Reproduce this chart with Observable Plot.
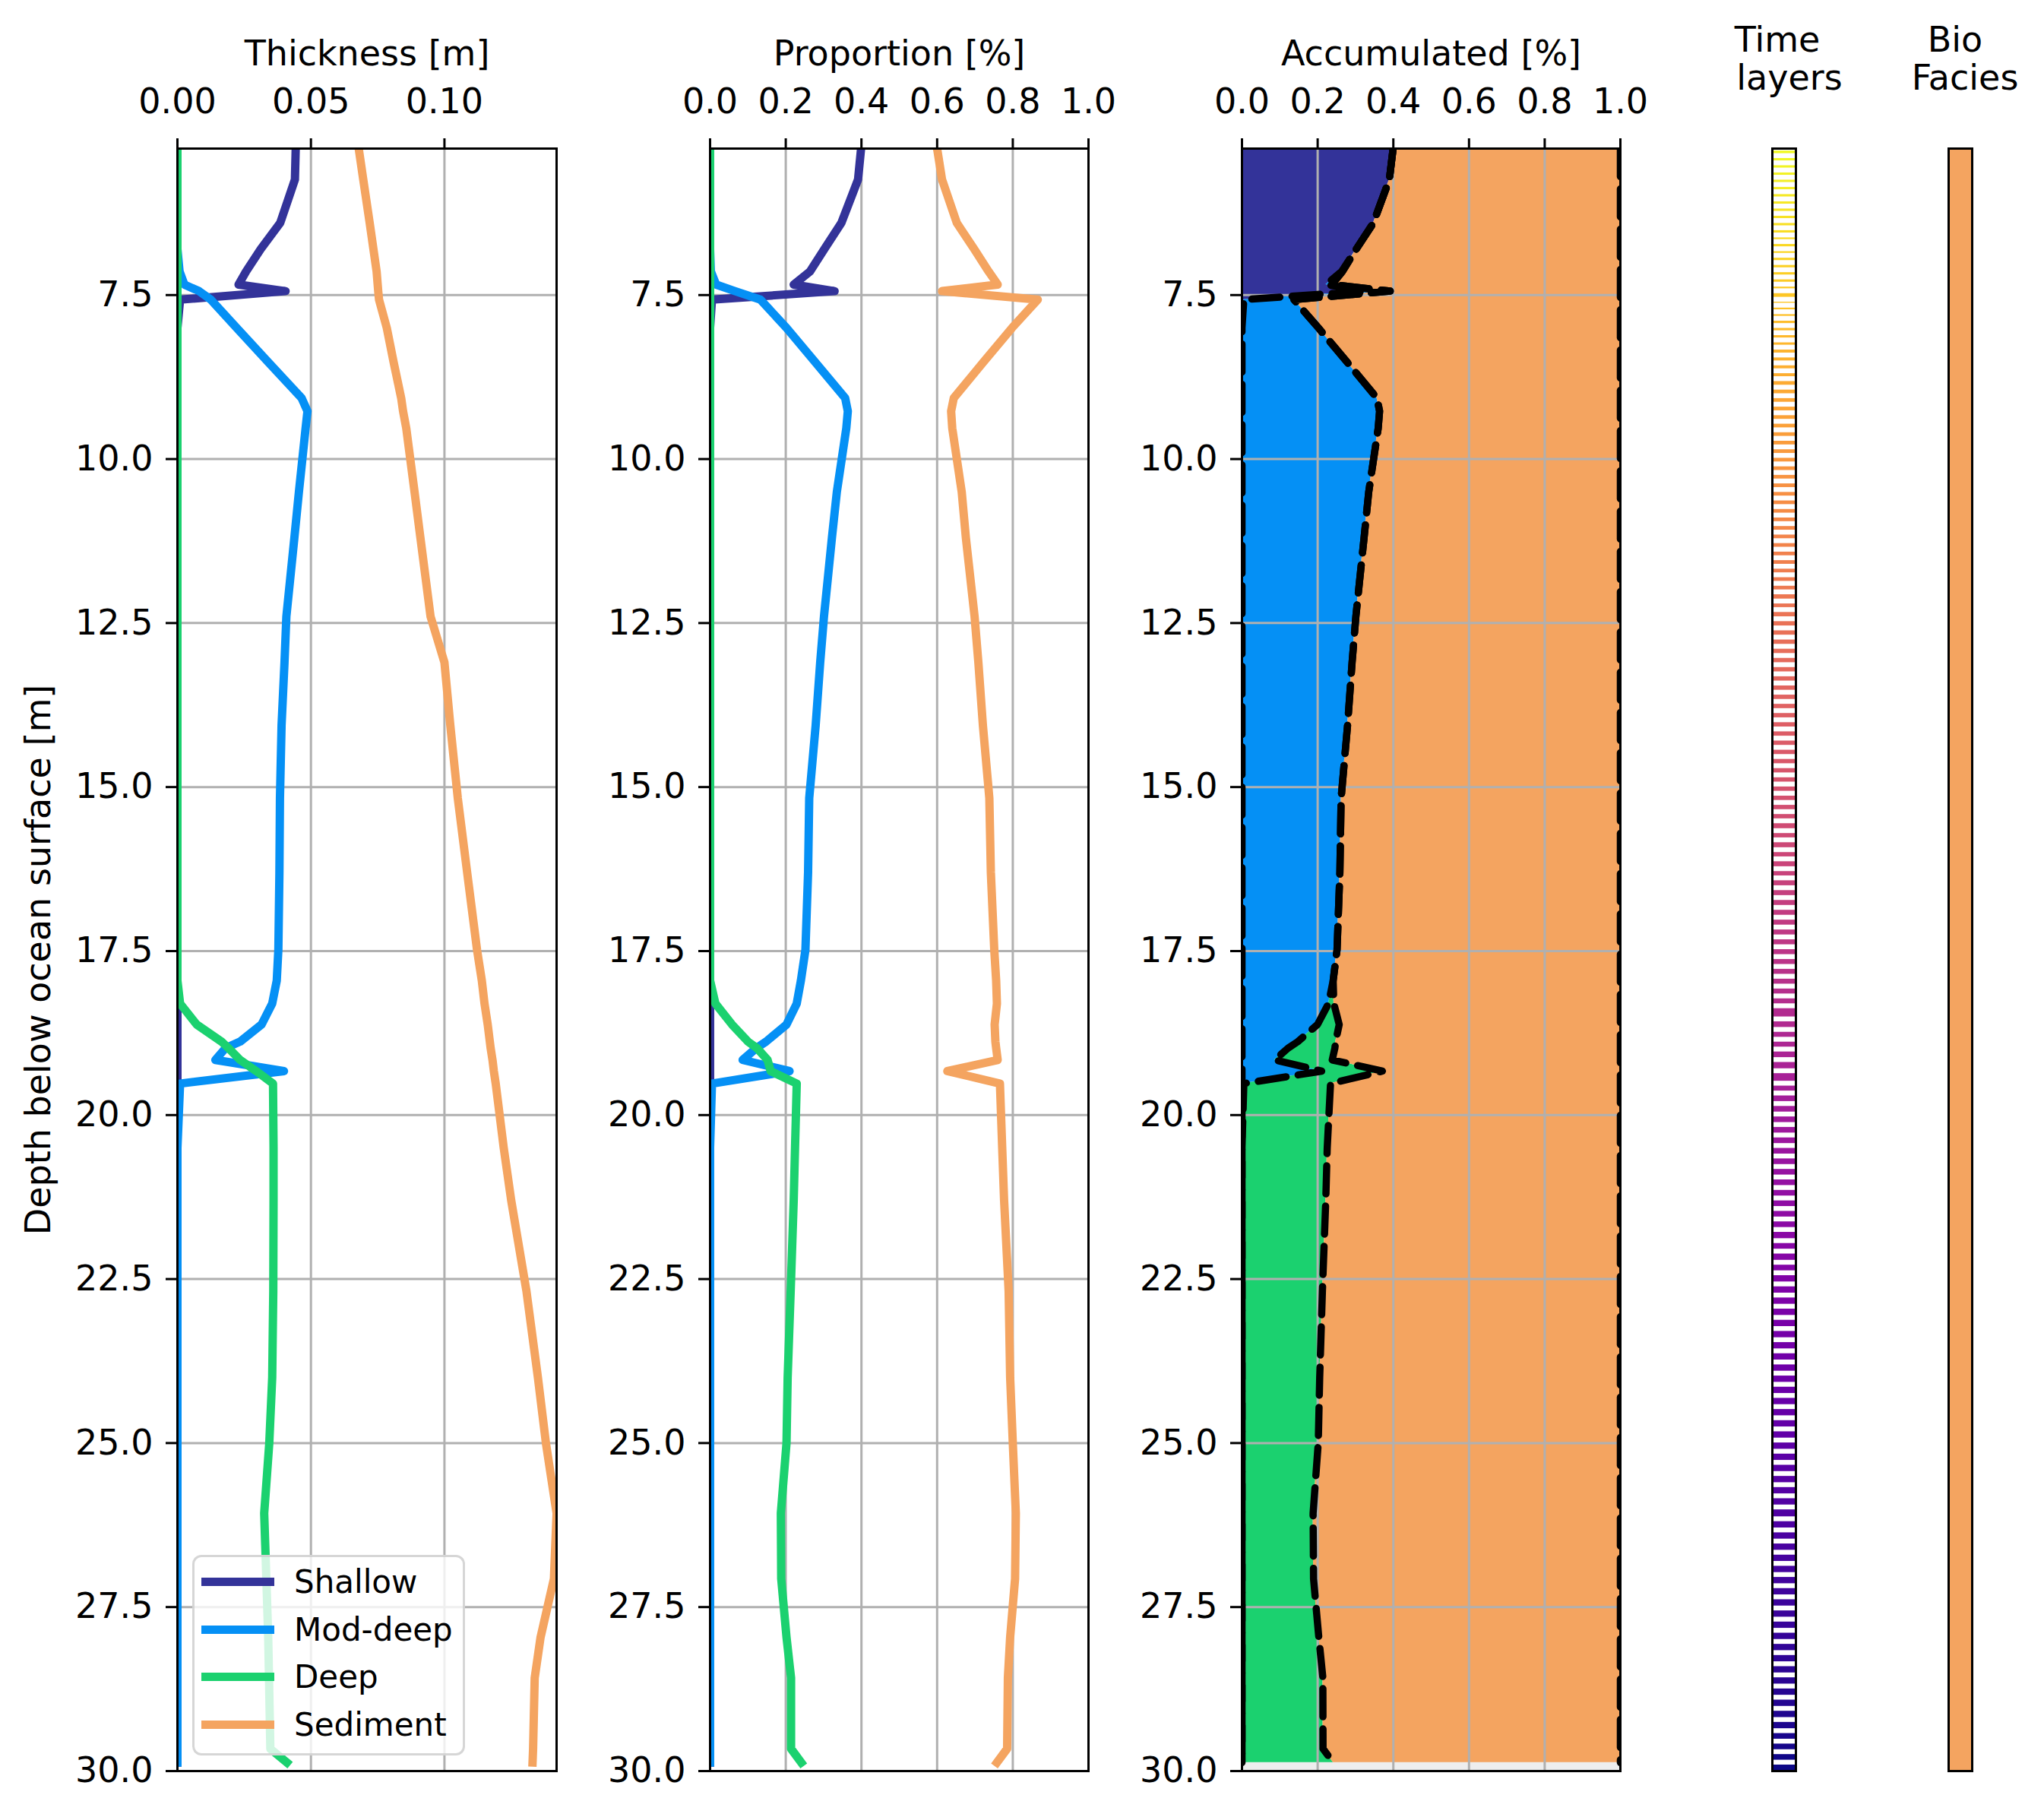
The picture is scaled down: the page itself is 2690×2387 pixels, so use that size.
<!DOCTYPE html>
<html>
<head>
<meta charset="utf-8">
<script src="https://cdn.jsdelivr.net/npm/d3@7"></script>
<script src="https://cdn.jsdelivr.net/npm/@observablehq/plot@0.6"></script>
<style>
html, body { margin: 0; padding: 0; background: #ffffff; }
#chart { position: relative; width: 2690px; height: 2387px; background: #ffffff; font-family: "DejaVu Sans"; overflow: hidden; }
#chart svg { position: absolute; top: 0; }
#legend { position: absolute; left: 253px; top: 2046px; width: 359px; height: 264px; box-sizing: border-box;
  border: 3px solid rgba(204,204,204,0.8); border-radius: 12px; background: rgba(255,255,255,0.8); }
#legend .sw { position: absolute; left: 8.6px; width: 96px; height: 11px; }
#legend .lb { position: absolute; left: 131px; font-size: 42px; line-height: 42px; font-family: "DejaVu Sans"; color: #000; white-space: nowrap; }
</style>
</head>
<body>
<div id="chart"></div>
<script>
// ---------------- data ----------------
const seriesNames = ["Shallow", "Mod-deep", "Deep", "Sediment"];
const seriesColors = ["#333399", "#0590f5", "#1bd16f", "#f4a460"];

// depth below ocean surface [m] of the sampled points
const depth = [5.267, 5.74, 6.40, 6.80, 7.14, 7.34, 7.44, 7.57, 8.00, 8.53,
  9.07, 9.27, 9.53, 10.50, 11.20, 12.40, 13.10, 14.06, 15.17, 16.30,
  17.48, 17.95, 18.30, 18.62, 18.88, 18.98, 19.16, 19.33, 19.52, 20.50,
  21.30, 22.68, 24.00, 25.00, 26.07, 27.07, 27.96, 28.58, 29.66, 29.87];

// thickness [m]
const thickShallow = [0.0443, 0.0440, 0.0385, 0.0312, 0.0257, 0.0229, 0.0405, 0.0010, 0, 0,
  0, 0, 0, 0, 0, 0, 0, 0, 0, 0,
  0, 0, 0, 0, 0, 0, 0, 0, 0, 0,
  0, 0, 0, 0, 0, 0, 0, 0, 0, 0];
const thickModDeep = [0, 0, 0, 0, 0.0008, 0.0026, 0.0081, 0.0125, 0.0222, 0.0342,
  0.0465, 0.0487, 0.0480, 0.0455, 0.0438, 0.0408, 0.0401, 0.0390, 0.0384, 0.0382,
  0.0378, 0.0372, 0.0355, 0.0315, 0.0235, 0.0180, 0.0142, 0.0399, 0.0010, 0,
  0, 0, 0, 0, 0, 0, 0, 0, 0, 0];
const thickDeep = [0, 0, 0, 0, 0, 0, 0, 0, 0, 0,
  0, 0, 0, 0, 0, 0, 0, 0, 0, 0,
  0, 0, 0.0010, 0.0072, 0.0165, 0.0191, 0.0235, 0.0295, 0.0358, 0.0360,
  0.0360, 0.0359, 0.0355, 0.0344, 0.0325, 0.0333, 0.0340, 0.0343, 0.0348, 0.0410];
const thickSediment = [0.0679, 0.0696, 0.0720, 0.0734, 0.0746, 0.0750, 0.0752, 0.0755, 0.0784, 0.0810,
  0.0838, 0.0845, 0.0857, 0.0888, 0.0910, 0.0948, 0.1000, 0.1022, 0.1050, 0.1085,
  0.1122, 0.1140, 0.1150, 0.1162, 0.1170, 0.1173, 0.1180, 0.1185, 0.1192, 0.1222,
  0.1250, 0.1307, 0.1350, 0.1380, 0.1420, 0.1410, 0.1360, 0.1338, 0.1332, 0.1330];

// proportion [0-1]
const propShallow = [0.399, 0.391, 0.347, 0.302, 0.264, 0.221, 0.329, 0.005, 0, 0,
  0, 0, 0, 0, 0, 0, 0, 0, 0, 0,
  0, 0, 0, 0, 0, 0, 0, 0, 0, 0,
  0, 0, 0, 0, 0, 0, 0, 0, 0, 0];
const propModDeep = [0, 0, 0, 0, 0.002, 0.016, 0.066, 0.133, 0.202, 0.279,
  0.357, 0.364, 0.360, 0.335, 0.322, 0.301, 0.291, 0.279, 0.262, 0.259,
  0.252, 0.240, 0.229, 0.202, 0.148, 0.122, 0.086, 0.210, 0.005, 0,
  0, 0, 0, 0, 0, 0, 0, 0, 0, 0];
const propDeep = [0, 0, 0, 0, 0, 0, 0, 0, 0, 0,
  0, 0, 0, 0, 0, 0, 0, 0, 0, 0,
  0, 0, 0.014, 0.058, 0.100, 0.124, 0.152, 0.160, 0.229, 0.2245,
  0.221, 0.213, 0.205, 0.202, 0.187, 0.188, 0.202, 0.214, 0.214, 0.241];
const propSediment = [0.600, 0.613, 0.652, 0.698, 0.736, 0.760, 0.613, 0.866, 0.798, 0.721,
  0.644, 0.637, 0.640, 0.665, 0.676, 0.699, 0.709, 0.721, 0.738, 0.742,
  0.751, 0.756, 0.758, 0.752, 0.754, 0.756, 0.760, 0.627, 0.766, 0.772,
  0.777, 0.789, 0.793, 0.800, 0.808, 0.806, 0.793, 0.787, 0.785, 0.758];

// time layer tops [m]
const layerTop = [5.267, 5.38, 5.49, 5.60, 5.71, 5.82, 5.93, 6.04, 6.15, 6.26,
  6.37, 6.48, 6.59, 6.69, 6.80, 6.90, 7.01, 7.12, 7.23, 7.34,
  7.44, 7.57, 7.66, 7.76, 7.86, 7.97, 8.08, 8.19, 8.30, 8.42,
  8.54, 8.66, 8.78, 8.91, 9.04, 9.17, 9.30, 9.43, 9.56, 9.69,
  9.82, 9.95, 10.08, 10.21, 10.34, 10.47, 10.60, 10.73, 10.86, 10.99,
  11.12, 11.25, 11.38, 11.51, 11.64, 11.77, 11.90, 12.03, 12.17, 12.30,
  12.44, 12.58, 12.72, 12.86, 13.00, 13.14, 13.28, 13.42, 13.56, 13.70,
  13.84, 13.98, 14.12, 14.26, 14.40, 14.54, 14.68, 14.82, 14.96, 15.10,
  15.24, 15.38, 15.52, 15.67, 15.81, 15.96, 16.10, 16.25, 16.39, 16.54,
  16.69, 16.84, 16.99, 17.14, 17.29, 17.44, 17.59, 17.74, 17.89, 18.04,
  18.19, 18.34, 18.54, 18.70, 18.85, 19.00, 19.16, 19.33, 19.52, 19.67,
  19.83, 19.99, 20.15, 20.31, 20.47, 20.63, 20.79, 20.95, 21.11, 21.27,
  21.43, 21.59, 21.75, 21.92, 22.08, 22.25, 22.41, 22.58, 22.75, 22.92,
  23.09, 23.26, 23.43, 23.60, 23.77, 23.94, 24.11, 24.28, 24.45, 24.62,
  24.79, 24.96, 25.13, 25.30, 25.47, 25.64, 25.81, 25.98, 26.16, 26.33,
  26.50, 26.67, 26.84, 27.01, 27.18, 27.35, 27.52, 27.69, 27.86, 28.03,
  28.20, 28.37, 28.54, 28.71, 28.88, 29.05, 29.22, 29.39, 29.55, 29.71,
  29.87];
const layerBase = 30.04;   // bottom of the oldest layer
const bioFacies = [{facies: "Sediment", from: 5.267, to: 30.04}];

const yTicks = [7.5, 10, 12.5, 15, 17.5, 20, 22.5, 25, 27.5, 30];
const depthMax = 30;
const thickTicks = [0, 0.05, 0.10];
const propTicks = [0, 0.2, 0.4, 0.6, 0.8, 1.0];

// ---------------- tidy tables ----------------
const thickness = [thickShallow, thickModDeep, thickDeep, thickSediment];
const proportion = [propShallow, propModDeep, propDeep, propSediment];
const tidy = [];
seriesNames.forEach((s, k) => depth.forEach((d, i) => tidy.push({
  depth: d, series: s, thickness: thickness[k][i], proportion: proportion[k][i]
})));
const nLayers = layerTop.length;
const layers = layerTop.map((t, i) => ({
  top: t, bottom: i + 1 < nLayers ? layerTop[i + 1] : layerBase, age: nLayers - 1 - i
}));

// ---------------- layout ----------------
const H = 2387, MT = 195, MB = 57;
const LW = 11;
const baseStyle = {fontFamily: "DejaVu Sans", fontSize: "46px", color: "black", background: "transparent", overflow: "visible"};
const yScale = {domain: [depth[0], depthMax], reverse: true};
const colorScale = {domain: seriesNames, range: seriesColors};
const gridStyle = {stroke: "#b0b0b0", strokeOpacity: 1, strokeWidth: 3};
const chart = document.getElementById("chart");
function place(svg, left) { svg.style.left = left + "px"; chart.appendChild(svg); }

function yAxis(extra) {
  return Plot.axisY(yTicks, Object.assign({anchor: "left", tickSize: 15, strokeWidth: 3, tickPadding: 17,
    tickFormat: d3.format(".1f"), label: null}, extra));
}
function xAxis(ticks, fmt, label) {
  return Plot.axisX(ticks, {anchor: "top", tickSize: 14, strokeWidth: 3, tickPadding: 33,
    tickFormat: d3.format(fmt), label, labelAnchor: "center", labelOffset: 142, labelArrow: "none"});
}

// Panel 1: thickness
place(Plot.plot({
  width: 760, height: H, marginLeft: 233, marginRight: 28, marginTop: MT, marginBottom: MB,
  style: baseStyle,
  x: {domain: [0, d3.max(tidy, d => d.thickness)]},
  y: yScale, color: colorScale,
  marks: [
    Plot.gridX(thickTicks, gridStyle),
    Plot.gridY(yTicks, gridStyle),
    Plot.lineX(tidy, {x: "thickness", y: "depth", z: "series", stroke: "series", strokeWidth: LW,
      strokeLinejoin: "round", strokeLinecap: "square", clip: true}),
    Plot.frame({stroke: "black", strokeWidth: 3}),
    xAxis(thickTicks, ".2f", "Thickness [m]"),
    yAxis({label: "Depth below ocean surface [m]", labelAnchor: "center", labelOffset: 200, labelArrow: "none"})
  ]
}), 0);

// Panel 2: proportion
place(Plot.plot({
  width: 700, height: H, marginLeft: 174, marginRight: 28, marginTop: MT, marginBottom: MB,
  style: baseStyle,
  x: {domain: [0, 1]},
  y: yScale, color: colorScale,
  marks: [
    Plot.gridX(propTicks, gridStyle),
    Plot.gridY(yTicks, gridStyle),
    Plot.lineX(tidy, {x: "proportion", y: "depth", z: "series", stroke: "series", strokeWidth: LW,
      strokeLinejoin: "round", strokeLinecap: "square", clip: true}),
    Plot.frame({stroke: "black", strokeWidth: 3}),
    xAxis(propTicks, ".1f", "Proportion [%]"),
    yAxis({})
  ]
}), 760);

// Panel 3: accumulated
place(Plot.plot({
  width: 700, height: H, marginLeft: 174, marginRight: 28, marginTop: MT, marginBottom: MB,
  style: baseStyle,
  x: {domain: [0, 1]},
  y: yScale, color: colorScale,
  marks: [
    Plot.frame({fill: "#eeeeee"}),
    Plot.areaX(tidy, Plot.stackX({x: "proportion", y: "depth", z: "series", fill: "series", offset: "normalize", clip: true})),
    Plot.gridX(propTicks, gridStyle),
    Plot.gridY(yTicks, gridStyle),
    Plot.lineX(tidy, Plot.stackX2({x: "proportion", y: "depth", z: "series", offset: "normalize",
      stroke: "black", strokeWidth: 9.5, strokeDasharray: "37,16", strokeLinejoin: "round", clip: true})),
    Plot.frame({stroke: "black", strokeWidth: 3}),
    xAxis(propTicks, ".1f", "Accumulated [%]"),
    yAxis({})
  ]
}), 1460);

// Panel 4: time layers
place(Plot.plot({
  width: 270, height: H, marginLeft: 172, marginRight: 67, marginTop: MT, marginBottom: MB,
  style: baseStyle,
  y: Object.assign({axis: null}, yScale),
  color: {type: "linear", scheme: "plasma", domain: [0, nLayers - 1]},
  marks: [
    Plot.rect(layers, {y1: "top", y2: "bottom", fill: "age", insetTop: 3.2, insetBottom: 3.2, clip: true}),
    Plot.frame({stroke: "black", strokeWidth: 3}),
    Plot.text(["Time"], {text: d => d, frameAnchor: "top", lineAnchor: "bottom", dx: -9, dy: -128, fill: "black"}),
    Plot.text(["layers"], {text: d => d, frameAnchor: "top", lineAnchor: "bottom", dx: 7, dy: -78, fill: "black"})
  ]
}), 2160);

// Panel 5: bio facies
place(Plot.plot({
  width: 260, height: H, marginLeft: 134, marginRight: 95, marginTop: MT, marginBottom: MB,
  style: baseStyle,
  y: Object.assign({axis: null}, yScale),
  color: {domain: seriesNames, range: seriesColors},
  marks: [
    Plot.rect(bioFacies, {y1: "from", y2: "to", fill: "facies", clip: true}),
    Plot.frame({stroke: "black", strokeWidth: 3}),
    Plot.text(["Bio"], {text: d => d, frameAnchor: "top", lineAnchor: "bottom", dx: -7, dy: -128, fill: "black"}),
    Plot.text(["Facies"], {text: d => d, frameAnchor: "top", lineAnchor: "bottom", dx: 6, dy: -78, fill: "black"})
  ]
}), 2430);

// Legend (for panel 1)
const legend = document.createElement("div");
legend.id = "legend";
seriesNames.forEach((s, k) => {
  const rowCenter = 32.7 + k * 62.5;
  const sw = document.createElement("div");
  sw.className = "sw"; sw.style.top = (rowCenter - 5.5) + "px"; sw.style.background = seriesColors[k];
  const lb = document.createElement("div");
  lb.className = "lb"; lb.style.top = (rowCenter + 15 - 35.5) + "px"; lb.textContent = s;
  legend.appendChild(sw); legend.appendChild(lb);
});
chart.appendChild(legend);
</script>
</body>
</html>
